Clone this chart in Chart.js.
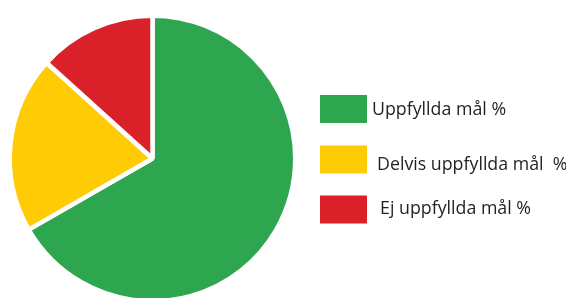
<!DOCTYPE html>
<html>
<head>
<meta charset="utf-8">
<script src="https://cdn.jsdelivr.net/npm/chart.js@4"></script>
<style>
html,body{margin:0;padding:0;background:#fff;overflow:hidden;width:566px;height:298px;}
#wrap{position:absolute;left:0;top:0;width:566px;height:304px;}
</style>
</head>
<body>
<div id="wrap"><canvas id="c"></canvas></div>
<script>
const categories = ["Uppfyllda mål %", "Delvis uppfyllda mål  %", "Ej uppfyllda mål %"];
const values = [66.7, 20.0, 13.3];
const colors = ["#2EA54F", "#FFCB05", "#DA2129"];

// legend layout (style, not data)
const legendBoxX = 320, legendBoxW = 47, legendBoxH = 28;
const legendBoxY = [95, 145.5, 195.5];
const legendTextX = [372, 377, 380];
const legendTextY = [115, 170, 213.5];

const customLegend = {
  id: 'customLegend',
  afterDraw(chart) {
    const ctx = chart.ctx;
    const ds = chart.data.datasets[0];
    ctx.save();
    ctx.font = '17.8px "Open Sans", sans-serif';
    ctx.textBaseline = 'alphabetic';
    chart.data.labels.forEach((lab, i) => {
      ctx.fillStyle = ds.backgroundColor[i];
      ctx.fillRect(legendBoxX, legendBoxY[i], legendBoxW, legendBoxH);
      ctx.fillStyle = '#231f20';
      ctx.fillText(lab, legendTextX[i], legendTextY[i]);
    });
    ctx.restore();
  }
};

new Chart(document.getElementById('c'), {
  type: 'pie',
  data: {
    labels: categories,
    datasets: [{
      data: values,
      backgroundColor: colors,
      borderColor: '#ffffff',
      borderWidth: 4.5
    }]
  },
  options: {
    responsive: true,
    maintainAspectRatio: false,
    animation: false,
    layout: { padding: { left: 7.5, top: 13.5, right: 268.5, bottom: 0.5 } },
    plugins: { legend: { display: false }, tooltip: { enabled: false } }
  },
  plugins: [customLegend]
});
</script>
</body>
</html>
